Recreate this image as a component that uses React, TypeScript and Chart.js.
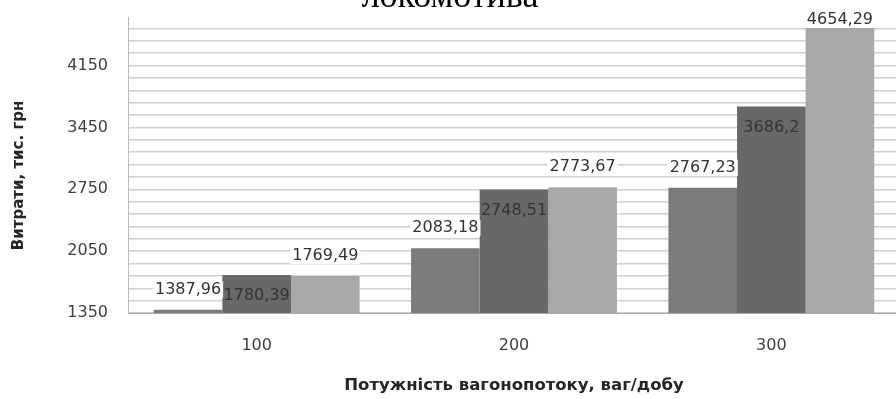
import React, { useEffect, useRef } from "react";
import { Chart, registerables } from "chart.js";

Chart.register(...registerables);

const chartTitle = "локомотива";
const categories = ["100", "200", "300"];
const seriesNames = ["Ряд 1", "Ряд 2", "Ряд 3"];
const series1 = [1387.96, 2083.18, 2767.23];
const series2 = [1780.39, 2748.51, 3686.2];
const series3 = [1769.49, 2773.67, 4654.29];
const seriesColors = ["#7b7b7b", "#686868", "#a8a8a8"];
const yMin = 1350;
const yMax = 4700;
const yStep = 140;
const yLabelStep = 700;
const yTitle = "Витрати, тис. грн\u00a0\u00a0\u00a0\u00a0";
const xTitle = "Потужність вагонопотоку, ваг/добу";

const OFFSET = 48;
const W = 900;
const H = 399 + OFFSET;

const fmt = (v: number) => String(v).replace(".", ",");
const onStep = (v: number, step: number) => {
  const r = (v - yMin) / step;
  return Math.abs(r - Math.round(r)) < 1e-6;
};
const yTickValues: number[] = [];
for (let v = yMin; v <= yMax + 1e-9; v += yStep) yTickValues.push(Math.round(v * 100) / 100);

const labelPlugin = {
  id: "barLabels",
  afterDatasetsDraw(chart: any) {
    const ctx = chart.ctx;
    const area = chart.chartArea;
    ctx.save();
    ctx.font = "16px 'DejaVu Sans'";
    ctx.textAlign = "center";
    ctx.textBaseline = "middle";
    chart.data.datasets.forEach((ds: any, di: number) => {
      const meta = chart.getDatasetMeta(di);
      meta.data.forEach((bar: any, i: number) => {
        const text = fmt(ds.data[i]);
        const w = ctx.measureText(text).width;
        let y: number;
        let bg = false;
        if (di === 1) {
          y = bar.y + 21;
        } else {
          y = Math.max(bar.y - 20, area.top + 3);
          bg = true;
        }
        if (bg) {
          ctx.fillStyle = "#ffffff";
          ctx.fillRect(bar.x - w / 2 - 2, y - 8, w + 4, 16);
        }
        ctx.fillStyle = "#333333";
        ctx.fillText(text, bar.x, y);
      });
    });
    ctx.restore();
  },
};

export default function App() {
  const ref = useRef<HTMLCanvasElement | null>(null);

  useEffect(() => {
    if (!ref.current) return;
    const chart = new Chart(ref.current, {
      type: "bar",
      data: {
        labels: categories,
        datasets: [series1, series2, series3].map((d, i) => ({
          label: seriesNames[i],
          data: d,
          backgroundColor: seriesColors[i],
          borderWidth: 0,
          categoryPercentage: 0.8,
          barPercentage: 1.0,
        })),
      },
      options: {
        responsive: false,
        animation: false,
        devicePixelRatio: 1,
        layout: { padding: { top: 25.4, left: 0, right: 0, bottom: 0 } },
        plugins: {
          legend: { display: false },
          tooltip: { enabled: false },
          title: {
            display: true,
            text: chartTitle,
            color: "#000000",
            font: { family: "'Liberation Serif', 'Times New Roman', serif", size: 36, weight: "normal", lineHeight: 1.1 },
            padding: { top: 0, bottom: 0 },
          },
        },
        scales: {
          x: {
            grid: { display: false, drawTicks: false },
            border: { display: true, color: "#a9a9a9", width: 1 },
            ticks: {
              color: "#404040",
              padding: 23,
              font: { family: "'DejaVu Sans'", size: 16 },
            },
            title: {
              display: true,
              text: xTitle,
              color: "#262626",
              font: { family: "'DejaVu Sans'", size: 16.5, weight: "bold", lineHeight: 1.2 },
              padding: { top: 0, bottom: 3 },
            },
            afterFit: (s: any) => {
              s.height = 86;
            },
          },
          y: {
            min: yMin,
            max: yMax,
            afterBuildTicks: (s: any) => {
              s.ticks = yTickValues.map((v) => ({ value: v }));
            },
            grid: {
              color: "#cfcfcf",
              lineWidth: 1.5,
              drawTicks: false,
            },
            border: { display: true, color: "#bdbdbd", width: 1 },
            ticks: {
              autoSkip: false,
              color: "#404040",
              padding: 20,
              font: { family: "'DejaVu Sans'", size: 16 },
              callback: (v: any) => (onStep(Number(v), yLabelStep) ? String(Math.round(Number(v))) : ""),
            },
            title: {
              display: true,
              text: yTitle,
              color: "#262626",
              font: { family: "'DejaVu Sans'", size: 15, weight: "bold", lineHeight: 1.2 },
              padding: { top: 10, bottom: 0 },
            },
            afterFit: (s: any) => {
              s.width = 128;
            },
          },
        },
      },
      plugins: [labelPlugin],
    });
    return () => chart.destroy();
  }, []);

  return (
    <div style={{ position: "absolute", left: 0, top: 0, width: 896, height: 399, overflow: "hidden", background: "#ffffff" }}>
      <canvas
        ref={ref}
        width={W}
        height={H}
        style={{ position: "absolute", left: 0, top: -OFFSET, width: W, height: H, display: "block" }}
      />
    </div>
  );
}
